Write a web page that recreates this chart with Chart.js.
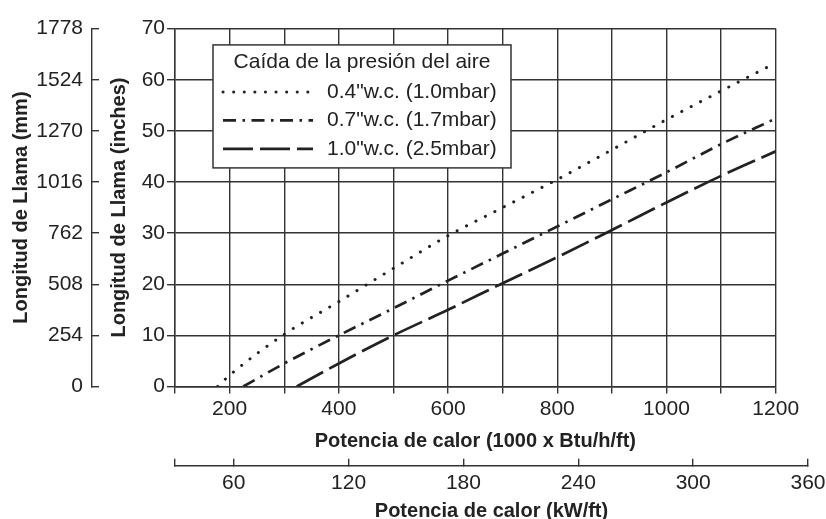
<!DOCTYPE html>
<html>
<head>
<meta charset="utf-8">
<script src="https://cdn.jsdelivr.net/npm/chart.js@4.4.1/dist/chart.umd.min.js"></script>
<style>
  html, body { margin: 0; padding: 0; background: #fff; }
  #wrap { width: 826px; height: 519px; }
</style>
</head>
<body>
<div id="wrap"><canvas id="flameChart" width="826" height="519"></canvas></div>
<script>
// longitud de llama vs potencia de calor, tres caidas de presion
const seriesLabels = ['0.4"w.c. (1.0mbar)', '0.7"w.c. (1.7mbar)', '1.0"w.c. (2.5mbar)'];
const legendTitle = 'Caída de la presión del aire';

const btu04 = [178, 200, 300, 400, 500, 600, 700, 800, 900, 1000, 1100, 1200];
const len04 = [0, 2.2, 10.2, 16.6, 23.1, 29.5, 35.0, 40.5, 46.3, 52.2, 57.8, 63.3];
const btu07 = [225, 300, 400, 500, 600, 700, 800, 900, 1000, 1100, 1200];
const len07 = [0, 4.5, 10.0, 15.3, 20.7, 26.0, 31.3, 36.6, 41.9, 47.4, 52.4];
const btu10 = [323, 400, 500, 600, 700, 800, 900, 1000, 1100, 1200];
const len10 = [0, 4.5, 10.0, 15.0, 20.2, 25.3, 30.6, 36.0, 41.2, 46.0];

const btuLabels = [200, 400, 600, 800, 1000, 1200];
const kwTicks = [29.3, 60, 120, 180, 240, 300, 360];
const kwLabels = [60, 120, 180, 240, 300, 360];
const mmTicks = [0, 254, 508, 762, 1016, 1270, 1524, 1778];

const ink = '#222';
const gridInk = '#333';
const fam = "'Liberation Sans', Arial, Helvetica, sans-serif";
const tickFont = { family: fam, size: 21 };
const titleFont = { family: fam, size: 20, weight: 'bold' };

function pairs(xs, ys) {
    return xs.map((x, i) => ({ x: x, y: ys[i] }));
}

// the kW axis runs past the right edge of the plot in the original
const stretchKw = {
    id: 'stretchKw',
    afterLayout(chart, args, opts) {
        const s = chart.scales.kw;
        s.width = opts.width;
        s.right = s.left + opts.width;
        s.configure();
    }
};

// boxed legend sitting inside the plot
const legendBox = {
    id: 'legendBox',
    afterDraw(chart, args, opts) {
        const { ctx, chartArea } = chart;
        const x = chartArea.left + opts.dx;
        const y = chartArea.top + opts.dy;
        ctx.save();
        ctx.fillStyle = '#fff';
        ctx.fillRect(x, y, opts.w, opts.h);
        ctx.strokeStyle = gridInk;
        ctx.lineWidth = 1.5;
        ctx.strokeRect(x, y, opts.w, opts.h);
        ctx.font = '21px ' + fam;
        ctx.fillStyle = ink;
        ctx.textBaseline = 'middle';
        ctx.textAlign = 'center';
        ctx.fillText(opts.title, x + opts.w / 2, y + opts.titleY);
        chart.data.datasets.forEach((ds, i) => {
            const rowY = y + opts.rowY + i * opts.rowGap;
            ctx.setLineDash(ds.borderDash);
            ctx.lineCap = ds.borderCapStyle;
            ctx.lineWidth = ds.borderWidth;
            ctx.strokeStyle = ds.borderColor;
            ctx.beginPath();
            ctx.moveTo(x + 10, rowY);
            ctx.lineTo(x + 100, rowY);
            ctx.stroke();
            ctx.setLineDash([]);
            ctx.textAlign = 'left';
            ctx.fillText(ds.label, x + 114, rowY);
        });
        ctx.restore();
    }
};

const ctx = document.getElementById('flameChart').getContext('2d');
const flameChart = new Chart(ctx, {
    type: 'line',
    data: {
        datasets: [{
            label: seriesLabels[0],
            data: pairs(btu04, len04),
            borderColor: ink,
            borderWidth: 3,
            borderDash: [0.1, 10.5],
            borderCapStyle: 'round',
        }, {
            label: seriesLabels[1],
            data: pairs(btu07, len07),
            borderColor: ink,
            borderWidth: 2.7,
            borderDash: [13, 6.5, 2.5, 6.5],
            borderCapStyle: 'butt',
        }, {
            label: seriesLabels[2],
            data: pairs(btu10, len10),
            borderColor: ink,
            borderWidth: 2.7,
            borderDash: [30, 7],
            borderCapStyle: 'butt',
        }]
    },
    options: {
        responsive: false,
        animation: false,
        devicePixelRatio: 1,
        layout: { padding: { top: 21.7, right: 50.3, bottom: 0, left: 0 } },
        elements: {
            point: { radius: 0, hoverRadius: 0 },
            line: { fill: false, cubicInterpolationMode: 'monotone' }
        },
        plugins: {
            legend: { display: false },
            tooltip: { enabled: false },
            stretchKw: { width: 633 },
            legendBox: { title: legendTitle, dx: 38, dy: 16.3, w: 298, h: 123, titleY: 17.5, rowY: 47, rowGap: 28.5 }
        },
        scales: {
            x: {
                type: 'linear',
                position: 'bottom',
                weight: 0,
                min: 100,
                max: 1200,
                afterFit: (s) => { s.height = 79.2; },
                ticks: {
                    stepSize: 100,
                    autoSkip: false,
                    maxRotation: 0,
                    padding: 3,
                    color: ink,
                    font: tickFont,
                    callback: (v) => btuLabels.includes(v) ? String(v) : ''
                },
                grid: { color: gridInk, lineWidth: 1.4, tickLength: 7 },
                border: { color: gridInk, width: 1.4 },
                title: {
                    display: true,
                    text: 'Potencia de calor (1000 x Btu/h/ft)',
                    color: ink,
                    font: titleFont,
                    padding: { top: 0, bottom: 12 }
                }
            },
            kw: {
                type: 'linear',
                position: 'bottom',
                weight: 1,
                min: 29.3,
                max: 360,
                afterFit: (s) => { s.height = 53.3; },
                afterBuildTicks: (s) => { s.ticks = kwTicks.map(v => ({ value: v })); },
                ticks: {
                    autoSkip: false,
                    maxRotation: 0,
                    padding: 12,
                    color: ink,
                    font: tickFont,
                    callback: (v) => kwLabels.includes(v) ? String(v) : ''
                },
                grid: { drawOnChartArea: false, color: gridInk, lineWidth: 1.4, tickLength: -7 },
                border: { color: gridInk, width: 1.4 },
                title: {
                    display: true,
                    text: 'Potencia de calor (kW/ft)',
                    color: ink,
                    font: titleFont,
                    padding: { top: 0, bottom: -4 }
                }
            },
            y: {
                type: 'linear',
                position: 'left',
                weight: 1,
                min: 0,
                max: 70,
                afterFit: (s) => { s.width = 83; },
                ticks: { stepSize: 10, padding: 2, color: ink, font: tickFont, callback: (v) => String(v) },
                grid: { color: gridInk, lineWidth: 1.4, tickLength: 8 },
                border: { color: gridInk, width: 1.4 },
                title: {
                    display: true,
                    text: 'Longitud de Llama (inches)',
                    color: ink,
                    font: titleFont,
                    padding: { top: 15, bottom: 0 }
                }
            },
            mm: {
                type: 'linear',
                position: 'left',
                weight: 2,
                min: 0,
                max: 1778,
                afterFit: (s) => { s.width = 92; },
                afterBuildTicks: (s) => { s.ticks = mmTicks.map(v => ({ value: v })); },
                ticks: { padding: 16, color: ink, font: tickFont, callback: (v) => String(v) },
                grid: { drawOnChartArea: false, color: gridInk, lineWidth: 1.4, tickLength: -7 },
                border: { color: gridInk, width: 1.4 },
                title: {
                    display: true,
                    text: 'Longitud de Llama (mm)',
                    color: ink,
                    font: titleFont,
                    padding: { top: 9, bottom: 0 }
                }
            }
        }
    },
    plugins: [stretchKw, legendBox]
});
</script>
</body>
</html>
